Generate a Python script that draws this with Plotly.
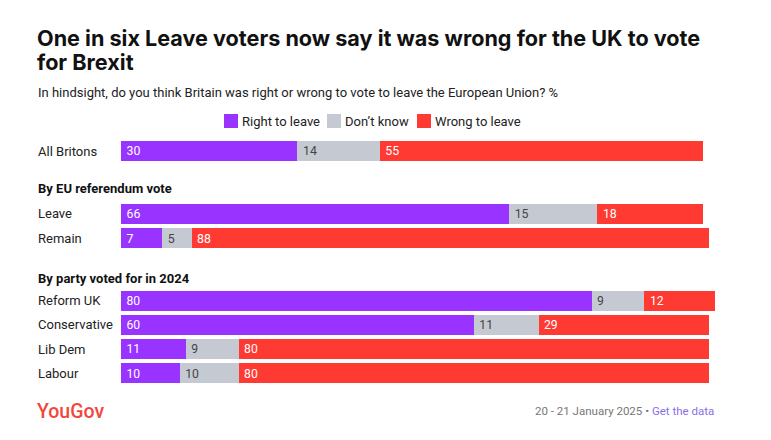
import plotly.graph_objects as go

# ---- data ----
series_names = ["Right to leave", "Don\u2019t know", "Wrong to leave"]
series_colors = ["#9933FF", "#C5CAD2", "#FF3A33"]
text_colors = ["#FFFFFF", "#444444", "#FFFFFF"]

group1_cats = ["All Britons"]
group1_right = [30]
group1_dk = [14]
group1_wrong = [55]

group2_title = "By EU referendum vote"
group2_cats = ["Leave", "Remain"]
group2_right = [66, 7]
group2_dk = [15, 5]
group2_wrong = [18, 88]

group3_title = "By party voted for in 2024"
group3_cats = ["Reform UK", "Conservative", "Lib Dem", "Labour"]
group3_right = [80, 60, 11, 10]
group3_dk = [9, 11, 9, 10]
group3_wrong = [12, 29, 80, 80]

title_lines = ["One in six Leave voters now say it was wrong for the UK to vote", "for Brexit"]
subtitle_text = "In hindsight, do you think Britain was right or wrong to vote to leave the European Union? %"
footer_date = "20 - 21 January 2025"
footer_link = "Get the data"

# ---- layout helpers ----
W, H = 771, 440
def px(x):
    return x / W
def py(y):
    return 1 - y / H

FONT = "Roboto, 'Open Sans', sans-serif"
TITLE_FONT = "Inter, Roboto, sans-serif"

groups = [
    (group1_cats, [group1_right, group1_dk, group1_wrong], (138.75, 163.25)),
    (group2_cats, [group2_right, group2_dk, group2_wrong], (201.5, 250.5)),
    (group3_cats, [group3_right, group3_dk, group3_wrong], (288.5, 385.5)),
]

fig = go.Figure()
annotations = []
shapes = []
layout_axes = {}
for gi, (cats, vals, (top, bot)) in enumerate(groups):
    sfx = "" if gi == 0 else str(gi + 1)
    for si in range(3):
        fig.add_trace(go.Bar(
            y=cats, x=vals[si], orientation="h",
            name=series_names[si],
            marker=dict(color=series_colors[si], line=dict(width=0)),
            text=["\u2009" + str(v) for v in vals[si]],
            textposition="inside", insidetextanchor="start",
            textangle=0,
            textfont=dict(color=text_colors[si], size=14, family=FONT),
            showlegend=False,
            xaxis="x" + sfx, yaxis="y" + sfx,
            hoverinfo="skip",
            cliponaxis=False,
        ))
    layout_axes["xaxis" + sfx] = dict(
        domain=[px(121), px(715)], range=[0, 101], visible=False,
        fixedrange=True, anchor="y" + sfx,
    )
    layout_axes["yaxis" + sfx] = dict(
        domain=[py(bot), py(top)], autorange="reversed", visible=False,
        type="category", categoryorder="array", categoryarray=cats,
        fixedrange=True, anchor="x" + sfx,
    )
    for c in cats:
        annotations.append(dict(
            x=px(36), xref="paper", xanchor="left",
            y=c, yref="y" + sfx, yanchor="middle",
            text=c, showarrow=False,
            font=dict(size=13, color="#222222", family=FONT),
        ))

# group headers
for txt, yy in [(group2_title, 188), (group3_title, 278)]:
    annotations.append(dict(
        x=px(36), xref="paper", xanchor="left",
        y=py(yy), yref="paper", yanchor="middle",
        text="<b>" + txt + "</b>", showarrow=False,
        font=dict(size=13, color="#111111", family=FONT),
    ))

# title and subtitle
for line, yy in zip(title_lines, [38, 62]):
    annotations.append(dict(
        x=px(35), xref="paper", xanchor="left",
        y=py(yy), yref="paper", yanchor="middle", align="left",
        text="<b>" + line + "</b>", showarrow=False,
        font=dict(size=21.6, color="#111111", family=TITLE_FONT, weight=900),
    ))
annotations.append(dict(
    x=px(36), xref="paper", xanchor="left",
    y=py(92), yref="paper", yanchor="middle",
    text=subtitle_text, showarrow=False,
    font=dict(size=13, color="#222222", family=FONT),
))

# custom legend (square + label)
legend_x = [224, 327, 417]
for name, col, lx in zip(series_names, series_colors, legend_x):
    shapes.append(dict(
        type="rect", xref="paper", yref="paper",
        x0=px(lx), x1=px(lx + 14), y0=py(128), y1=py(114),
        fillcolor=col, line=dict(width=0),
    ))
    annotations.append(dict(
        x=px(lx + 16), xref="paper", xanchor="left",
        y=py(121), yref="paper", yanchor="middle",
        text=name, showarrow=False,
        font=dict(size=13, color="#222222", family=FONT),
    ))

# footer
annotations.append(dict(
    x=px(35), xref="paper", xanchor="left",
    y=py(411), yref="paper", yanchor="middle",
    text="YouGov", showarrow=False,
    font=dict(size=19.5, color="#F2473C", family=FONT, weight=500),
))
annotations.append(dict(
    x=px(716), xref="paper", xanchor="right",
    y=py(411), yref="paper", yanchor="middle",
    text=footer_date + " \u2022 <span style='color:#8B6FE8'>" + footer_link + "</span>",
    showarrow=False,
    font=dict(size=11.5, color="#777777", family=FONT),
))

fig.update_layout(
    width=W, height=H,
    margin=dict(l=0, r=0, t=0, b=0),
    paper_bgcolor="white", plot_bgcolor="white",
    barmode="stack", bargap=0.18,
    showlegend=False,
    annotations=annotations,
    shapes=shapes,
    uniformtext=dict(mode=False),
    **layout_axes,
)

fig.write_html(
    "out.html",
    config={"displayModeBar": False},
    post_script="document.body.style.margin='0';document.body.style.overflow='hidden';",
)
